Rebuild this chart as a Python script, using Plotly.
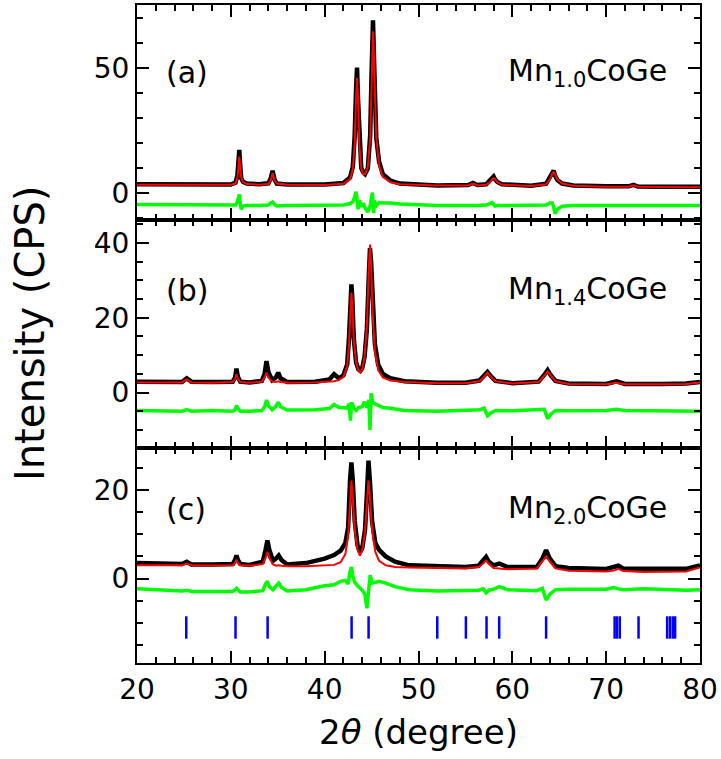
import plotly.graph_objects as go
from plotly.subplots import make_subplots

# ---------------- Panel (a) Mn1.0CoGe ----------------
x_a = [20, 25, 30, 30.5, 30.7, 30.8, 30.9, 31.0, 31.1, 31.3, 31.7, 33, 34.0, 34.25, 34.45, 34.65, 34.9, 36, 40,
       42.0, 42.7, 43.0, 43.2, 43.35, 43.45, 43.55, 43.7, 43.9, 44.1, 44.3, 44.6, 44.85, 45.0, 45.1, 45.15, 45.2,
       45.3, 45.5, 45.8, 46.2, 47, 48, 52, 55.3, 55.8, 56.3, 57.2, 57.6, 57.85, 58.0, 58.15, 58.4, 58.9, 59.5,
       60.2, 62, 63.6, 64.0, 64.25, 64.4, 64.55, 64.8, 65.3, 66.5, 70, 72.4, 72.9, 73.4, 76, 80]
obs_a = [3.5, 3.5, 3.4, 4.2, 7.0, 12.0, 17.2, 11.0, 6.0, 4.5, 3.8, 3.5, 3.9, 5.8, 8.9, 5.5, 3.8, 3.4, 3.4,
         4.0, 6.2, 10.5, 23, 42, 50.1, 38, 21, 10, 8.3, 7.6, 9.8, 23, 48, 62, 69, 62,
         48, 22, 12.5, 7.5, 5.0, 3.8, 3.0, 3.2, 4.0, 3.2, 3.5, 5.0, 6.4, 6.6, 5.5, 4.4, 3.5, 3.4,
         3.0, 2.9, 3.7, 6.2, 8.6, 9.0, 7.0, 5.2, 3.8, 3.0, 2.7, 2.7, 3.3, 2.6, 2.5, 2.5]
calc_a = [3.3, 3.3, 3.3, 3.8, 6.0, 10.0, 14.6, 10.5, 6.5, 4.4, 3.6, 3.3, 3.6, 5.0, 8.0, 5.2, 3.8, 3.3, 3.2,
          3.7, 5.5, 9.5, 20, 38, 46, 38, 19, 10, 7.5, 7.6, 10.5, 22, 45, 61, 64.6, 61,
          46, 22, 11, 6.5, 4.3, 3.5, 3.0, 3.0, 3.8, 3.0, 3.3, 4.2, 5.5, 6.0, 5.5, 4.3, 3.3, 3.2,
          2.9, 2.8, 3.5, 5.5, 7.8, 8.4, 7.6, 5.5, 3.8, 2.9, 2.5, 2.5, 3.1, 2.5, 2.4, 2.3]
diff_a = [-4.6, -4.8, -5.0, -4.8, -3.5, -2.0, -0.5, -4.0, -6.5, -5.2, -5.0, -5.0, -4.8, -4.0, -3.6, -4.6, -5.2, -5.0, -5.0,
          -4.8, -4.2, -3.5, -1.5, 0.5, -2.5, -6.5, -3.0, -5.5, -4.0, -6.0, -7.5, -5.0, -1.5, 0.2, -4.0, -8.0,
          -3.0, -5.0, -3.8, -4.0, -4.0, -4.4, -5.0, -5.0, -5.2, -5.0, -4.8, -4.0, -3.8, -4.5, -5.2, -5.0, -5.0, -5.0,
          -5.0, -5.0, -4.8, -4.0, -4.0, -5.5, -8.2, -6.5, -5.3, -5.0, -5.0, -5.0, -4.8, -5.0, -5.0, -5.0]

# ---------------- Panel (b) Mn1.4CoGe ----------------
x_b = [20, 24.8, 25.3, 25.8, 28, 30.2, 30.45, 30.6, 30.75, 31.0, 32, 33.3, 33.6, 33.8, 34.0, 34.4, 34.8, 35.05, 35.3,
       36, 39, 40.5, 41.0, 41.5, 42.0, 42.4, 42.6, 42.75, 42.85, 42.95, 43.1, 43.35, 43.6, 43.8, 44.0, 44.25, 44.5,
       44.7, 44.83, 44.95, 45.1, 45.35, 45.7, 46.2, 47, 48.5, 52, 55, 56.5, 57.0, 57.35, 57.7, 58.2, 60, 62.8, 63.4,
       63.76, 64.1, 64.6, 66, 70, 71.1, 72, 76, 78.5, 80]
obs_b = [2.9, 2.8, 3.8, 2.9, 2.8, 2.9, 4.0, 6.4, 4.2, 2.9, 2.7, 3.1, 5.0, 8.4, 5.5, 3.3, 4.0, 5.3, 3.8,
         2.8, 2.9, 3.5, 4.9, 3.8, 4.6, 7.5, 15, 25, 28.9, 25, 14.5, 8, 6.2, 5.8, 6.5, 9.5, 17,
         31, 38.6, 35, 24, 13, 7.5, 5.0, 3.8, 3.0, 2.6, 2.6, 3.2, 4.5, 5.5, 4.4, 3.1, 2.5, 2.9, 4.7,
         6.0, 4.6, 3.1, 2.4, 2.3, 3.0, 2.3, 2.3, 2.4, 2.8]
calc_b = [2.7, 2.7, 3.5, 2.7, 2.6, 2.8, 3.6, 4.9, 3.6, 2.8, 2.6, 2.9, 4.0, 5.3, 4.0, 2.9, 2.8, 3.0, 2.8,
          2.6, 2.7, 2.9, 3.0, 3.3, 4.2, 7.0, 13, 22, 26.7, 23, 14, 8, 5.8, 5.3, 6.2, 9.5, 18,
          33, 39.6, 34, 22, 11, 6.0, 4.0, 3.2, 2.8, 2.5, 2.5, 3.0, 4.2, 5.3, 4.2, 3.0, 2.4, 2.8, 4.5,
          5.6, 4.5, 3.0, 2.3, 2.2, 2.6, 2.2, 2.2, 2.3, 2.7]
diff_b = [-4.8, -5.0, -4.6, -5.0, -4.8, -5.0, -4.6, -3.5, -4.2, -5.0, -5.0, -4.8, -3.8, -2.0, -3.5, -4.6, -3.7, -2.6, -3.8,
          -4.7, -4.6, -4.3, -3.2, -4.0, -4.0, -4.2, -3.0, -7.5, -3.0, -3.0, -4.2, -4.8, -4.0, -4.0, -3.8, -2.5, -4.0,
          -2.0, -10.0, -0.2, -2.5, -3.0, -3.5, -4.0, -4.2, -4.8, -5.0, -4.8, -4.6, -4.2, -6.2, -5.5, -4.8, -4.9, -4.7, -4.5,
          -7.0, -5.8, -4.8, -4.9, -4.8, -4.5, -4.8, -5.0, -5.0, -5.0]

# ---------------- Panel (c) Mn2.0CoGe ----------------
x_c = [20, 24.8, 25.3, 25.8, 28, 30.2, 30.45, 30.6, 30.75, 31.0, 32, 33.4, 33.7, 33.9, 34.1, 34.5, 34.85, 35.1, 35.4,
       36, 38, 40, 41, 41.7, 42.2, 42.5, 42.7, 42.85, 43.0, 43.2, 43.5, 43.76, 44.0, 44.3, 44.5, 44.67, 44.85, 45.05,
       45.4, 45.8, 46.5, 47.5, 49, 52, 55, 56.4, 56.9, 57.2, 57.5, 58.0, 58.6, 59.5, 62.6, 63.2, 63.6, 64.0, 64.6,
       66, 70, 70.8, 71.3, 71.8, 74, 78.5, 80]
obs_c = [3.5, 3.3, 3.8, 3.2, 3.2, 3.3, 4.2, 5.2, 4.2, 3.3, 3.1, 3.8, 6.5, 8.6, 6.5, 4.0, 4.6, 5.2, 4.2,
         3.2, 3.5, 4.5, 5.3, 6.3, 8.0, 11.5, 22, 26.2, 22, 13, 7.5, 6.0, 6.8, 11, 19, 26.6, 21, 13,
         8.0, 6.5, 5.0, 3.8, 3.0, 2.8, 2.6, 2.9, 4.0, 4.9, 3.8, 3.0, 3.4, 2.6, 2.6, 4.5, 6.4, 4.5, 2.8,
         2.4, 2.2, 2.5, 2.9, 2.3, 2.2, 2.2, 3.0]
calc_c = [3.0, 3.0, 3.4, 3.0, 2.95, 3.0, 3.5, 4.3, 3.5, 3.0, 2.9, 3.3, 4.6, 6.0, 4.6, 3.2, 2.9, 3.0, 2.9,
          2.8, 2.8, 2.9, 3.1, 3.7, 5.5, 9.5, 17, 22.1, 18, 11, 6.5, 5.2, 6.3, 10.5, 17, 22.1, 17.5, 11,
          6.0, 4.0, 3.0, 2.6, 2.5, 2.4, 2.3, 2.6, 3.4, 4.1, 3.3, 2.4, 2.3, 2.1, 2.3, 3.8, 5.0, 3.8, 2.3,
          1.8, 1.6, 1.8, 2.2, 1.7, 1.5, 1.6, 2.5]
diff_c = [-2.3, -2.8, -2.6, -2.9, -2.9, -2.9, -2.5, -2.2, -2.5, -3.0, -3.0, -2.7, -1.2, -0.6, -1.8, -2.5, -1.6, -1.0, -2.0,
          -2.8, -2.5, -1.6, -1.4, -0.6, -0.4, -1.2, 1.5, 2.6, 0.5, -0.8, -1.6, -2.0, -2.6, -3.6, -6.7, -3.0, 0.8, -1.0,
          -0.8, -0.6, -1.0, -1.8, -2.5, -2.8, -2.7, -2.6, -2.3, -3.2, -2.6, -2.4, -1.8, -2.5, -2.7, -2.2, -4.8, -3.5, -2.5,
          -2.4, -2.4, -2.0, -2.3, -2.5, -2.3, -2.6, -2.5]

# Bragg reflection positions
bragg_x = [25.25, 30.5, 33.92, 42.87, 44.68, 52.0, 55.05, 57.25, 58.6, 63.6,
           70.9, 71.15, 71.45, 73.45, 76.5, 76.8, 77.1, 77.35]
bragg_level = -11.0

panel_labels = ["(a)", "(b)", "(c)"]
sample_labels = ["Mn<sub>1.0</sub>CoGe", "Mn<sub>1.4</sub>CoGe", "Mn<sub>2.0</sub>CoGe"]
y_ranges = [[-10.9, 75.1], [-14.75, 46.05], [-19.0, 29.5]]
y_major = [50, 20, 20]
y_minor = [10, 5, 5]
label_y = [48, 27.3, 15.5]

FONT = "DejaVu Sans"

fig = make_subplots(rows=3, cols=1, shared_xaxes=True, vertical_spacing=0,
                    row_heights=[216, 228, 216])

datasets = [(x_a, obs_a, calc_a, diff_a), (x_b, obs_b, calc_b, diff_b), (x_c, obs_c, calc_c, diff_c)]
for i, (xx, ob, ca, di) in enumerate(datasets):
    r = i + 1
    fig.add_trace(go.Scatter(x=xx, y=ob, mode="lines", line=dict(color="#000000", width=4.5),
                             showlegend=False, hoverinfo="skip"), row=r, col=1)
    fig.add_trace(go.Scatter(x=xx, y=ca, mode="lines", line=dict(color="#ff0000", width=2),
                             showlegend=False, hoverinfo="skip"), row=r, col=1)
    fig.add_trace(go.Scatter(x=xx, y=di, mode="lines", line=dict(color="#00ff00", width=3.5),
                             showlegend=False, hoverinfo="skip"), row=r, col=1)

fig.add_trace(go.Scatter(x=bragg_x, y=[bragg_level] * len(bragg_x), mode="markers",
                         marker=dict(symbol="line-ns", size=16, line=dict(color="#0000ff", width=2.5)),
                         showlegend=False, hoverinfo="skip"), row=3, col=1)

axis_common = dict(showline=True, linewidth=2, linecolor="black", mirror="ticks",
                   ticks="inside", ticklen=12, tickwidth=2, tickcolor="black",
                   showgrid=False, zeroline=False,
                   tickfont=dict(family=FONT, size=28, color="black"))

for i in range(3):
    r = i + 1
    fig.update_xaxes(range=[20, 80], dtick=10, tick0=20,
                     minor=dict(ticks="inside", ticklen=6, tickwidth=2, dtick=2, tickcolor="black", showgrid=False),
                     row=r, col=1, **axis_common)
    fig.update_yaxes(range=y_ranges[i], dtick=y_major[i], tick0=0,
                     minor=dict(ticks="inside", ticklen=6, tickwidth=2, dtick=y_minor[i], tickcolor="black", showgrid=False),
                     row=r, col=1, **axis_common)
    xref = "x" if i == 0 else f"x{r}"
    yref = "y" if i == 0 else f"y{r}"
    fig.add_annotation(x=22.9, y=label_y[i], xref=xref, yref=yref, text=panel_labels[i],
                       showarrow=False, xanchor="left", yanchor="middle",
                       font=dict(family=FONT, size=30, color="black"))
    fig.add_annotation(x=76.7, y=label_y[i], xref=xref, yref=yref, text=sample_labels[i],
                       showarrow=False, xanchor="right", yanchor="middle",
                       font=dict(family=FONT, size=30, color="black"))

fig.update_xaxes(title=dict(text="2<i>θ</i> (degree)", font=dict(family=FONT, size=34, color="black"),
                            standoff=16), row=3, col=1)

fig.update_layout(
    width=721, height=759,
    margin=dict(l=137, r=20, t=3, b=96),
    paper_bgcolor="white", plot_bgcolor="white",
    font=dict(family=FONT, color="black"),
    showlegend=False,
)
fig.add_annotation(x=-0.19, y=0.5, xref="paper", yref="paper", text="Intensity (CPS)",
                   textangle=-90, showarrow=False, xanchor="center", yanchor="middle",
                   font=dict(family=FONT, size=40, color="black"))

fig.write_html("out.html")
